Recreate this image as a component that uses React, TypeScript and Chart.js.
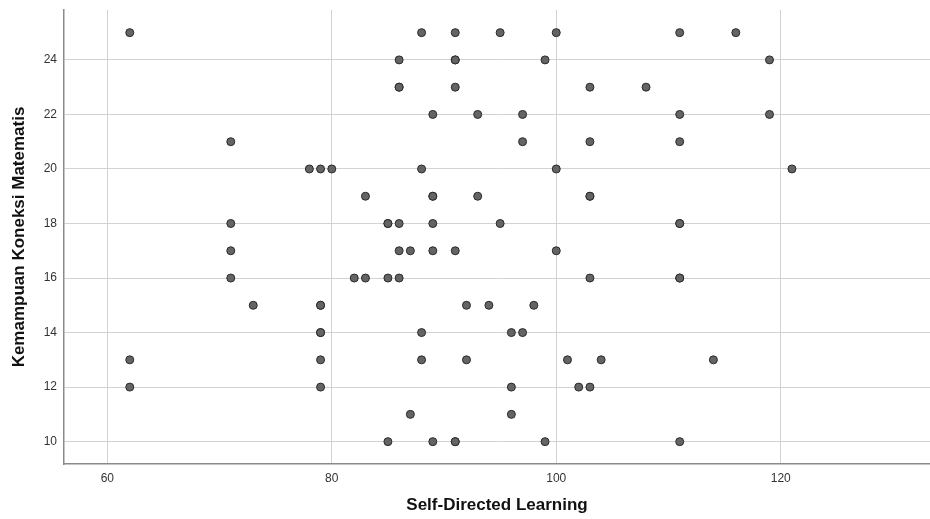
import React, { useEffect, useRef } from "react";
import { Chart, registerables } from "chart.js";

Chart.register(...registerables);

// Self-Directed Learning (x) values, listed row by row
const selfDirectedLearning: number[] = [
  62, 88, 91, 95, 100, 111, 116, // 25
  86, 91, 91, 99, 119, // 24
  86, 86, 91, 103, 108, // 23
  89, 93, 97, 111, 119, // 22
  71, 97, 103, 111, // 21
  78, 79, 80, 88, 100, 121, // 20
  83, 89, 89, 93, 103, 103, // 19
  71, 85, 85, 86, 89, 95, 111, 111, // 18
  71, 86, 87, 89, 91, 100, // 17
  71, 82, 83, 85, 86, 103, 111, 111, // 16
  73, 79, 79, 92, 94, 98, // 15
  79, 79, 88, 96, 97, // 14
  62, 79, 88, 92, 101, 104, 114, // 13
  62, 79, 96, 102, 103, // 12
  87, 96, // 11
  85, 89, 91, 91, 99, 111, // 10
];

// Kemampuan Koneksi Matematis (y) values, same order
const kemampuanKoneksi: number[] = [
  25, 25, 25, 25, 25, 25, 25,
  24, 24, 24, 24, 24,
  23, 23, 23, 23, 23,
  22, 22, 22, 22, 22,
  21, 21, 21, 21,
  20, 20, 20, 20, 20, 20,
  19, 19, 19, 19, 19, 19,
  18, 18, 18, 18, 18, 18, 18, 18,
  17, 17, 17, 17, 17, 17,
  16, 16, 16, 16, 16, 16, 16, 16,
  15, 15, 15, 15, 15, 15,
  14, 14, 14, 14, 14,
  13, 13, 13, 13, 13, 13, 13,
  12, 12, 12, 12, 12,
  11, 11,
  10, 10, 10, 10, 10, 10,
];

const xTickValues: number[] = [60, 80, 100, 120];
const yTickValues: number[] = [10, 12, 14, 16, 18, 20, 22, 24];

const xTitle = "Self-Directed Learning";
const yTitle = "Kemampuan Koneksi Matematis";

const FONT = "'Liberation Sans', Arial, Helvetica, sans-serif";

export default function App() {
  const canvasRef = useRef<HTMLCanvasElement | null>(null);

  useEffect(() => {
    if (!canvasRef.current) return;
    const points = selfDirectedLearning.map((x, i) => ({ x, y: kemampuanKoneksi[i] }));
    const chart = new Chart(canvasRef.current, {
      type: "scatter",
      data: {
        datasets: [
          {
            data: points,
            backgroundColor: "#646464",
            borderColor: "#2a2a2a",
            borderWidth: 1,
            pointRadius: 4,
            pointHoverRadius: 4,
          },
        ],
      },
      options: {
        animation: false,
        responsive: false,
        maintainAspectRatio: false,
        devicePixelRatio: 1,
        layout: { autoPadding: false, padding: { top: 10, right: 0, left: 0, bottom: 0 } },
        plugins: {
          legend: { display: false },
          tooltip: { enabled: false },
        },
        scales: {
          x: {
            type: "linear",
            min: 56.14,
            max: 133.3,
            afterFit: (scale: any) => {
              scale.height = 55;
              scale.paddingLeft = 0;
              scale.paddingRight = 0;
            },
            afterBuildTicks: (scale: any) => {
              scale.ticks = xTickValues.map((v) => ({ value: v }));
            },
            grid: {
              color: "#d3d3d3",
              lineWidth: 1,
              drawTicks: false,
            },
            border: { color: "#8a8a8a", width: 1.5 },
            ticks: {
              padding: 7,
              color: "#333333",
              font: { family: FONT, size: 12 },
              maxRotation: 0,
            },
            title: {
              display: true,
              text: xTitle,
              color: "#111111",
              font: { family: FONT, size: 17, weight: "bold" },
              padding: { top: 0, bottom: 3 },
            },
          },
          y: {
            type: "linear",
            min: 9.18,
            max: 25.83,
            afterFit: (scale: any) => {
              scale.width = 64;
              scale.paddingTop = 0;
              scale.paddingBottom = 0;
            },
            afterBuildTicks: (scale: any) => {
              scale.ticks = yTickValues.map((v) => ({ value: v }));
            },
            grid: {
              color: "#d3d3d3",
              lineWidth: 1,
              drawTicks: false,
            },
            border: { color: "#8a8a8a", width: 1.5 },
            ticks: {
              padding: 7,
              color: "#333333",
              font: { family: FONT, size: 12 },
            },
            title: {
              display: true,
              text: yTitle,
              color: "#111111",
              font: { family: FONT, size: 17, weight: "bold" },
              padding: { top: 9, bottom: 0 },
            },
          },
        },
      },
    });
    return () => chart.destroy();
  }, []);

  return (
    <div
      style={{
        position: "fixed",
        left: 0,
        top: 0,
        width: "930px",
        height: "519px",
        background: "#ffffff",
      }}
    >
      <canvas
        ref={canvasRef}
        width={930}
        height={519}
        style={{ display: "block", width: "930px", height: "519px" }}
      />
    </div>
  );
}
